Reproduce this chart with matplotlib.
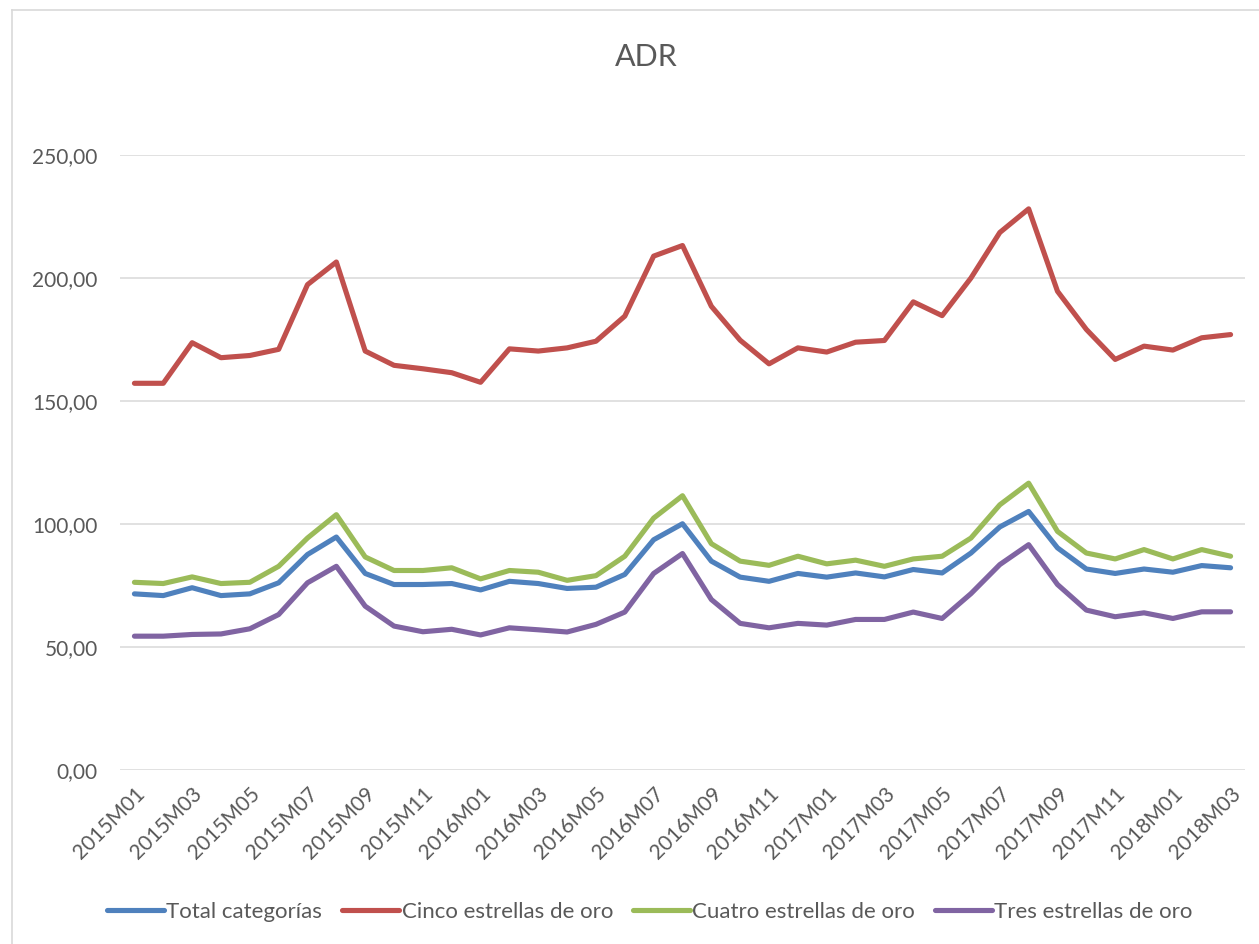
import matplotlib
matplotlib.use("Agg")
import matplotlib.pyplot as plt
from matplotlib.lines import Line2D
import matplotlib.transforms as mtransforms

# ---- data ----
months = [f"{y}M{m:02d}" for y in (2015, 2016, 2017, 2018) for m in range(1, 13)][:39]

total = [71.6, 70.9, 74.1, 70.9, 71.6, 76.1, 87.6, 94.7, 79.9, 75.4, 75.4, 75.8, 73.2,
         76.7, 75.8, 73.8, 74.3, 79.5, 93.6, 100.1, 84.9, 78.4, 76.7, 79.9, 78.4, 80.1,
         78.5, 81.5, 80.1, 88.2, 98.8, 105.1, 90.3, 81.7, 79.9, 81.7, 80.4, 83.1, 82.2]
cinco = [157.2, 157.2, 173.7, 167.6, 168.5, 171.0, 197.3, 206.5, 170.3, 164.5, 163.1, 161.5, 157.6,
         171.2, 170.3, 171.6, 174.3, 184.5, 208.9, 213.2, 188.5, 174.7, 165.1, 171.6, 169.9, 173.9,
         174.6, 190.3, 184.7, 200.0, 218.5, 228.1, 194.6, 179.1, 166.9, 172.3, 170.7, 175.7, 177.0]
cuatro = [76.3, 75.8, 78.5, 75.8, 76.3, 82.8, 94.3, 103.8, 86.6, 81.1, 81.1, 82.2, 77.7,
          81.1, 80.4, 77.1, 79.0, 86.9, 102.4, 111.5, 92.0, 84.9, 83.2, 86.9, 83.8, 85.3,
          82.8, 85.8, 86.9, 94.3, 107.8, 116.6, 97.0, 88.2, 85.8, 89.6, 85.8, 89.6, 86.9]
tres = [54.4, 54.4, 55.1, 55.3, 57.4, 63.2, 76.1, 82.8, 66.6, 58.5, 56.2, 57.2, 54.9,
        57.8, 57.0, 56.1, 59.2, 64.2, 79.9, 88.0, 69.3, 59.6, 57.8, 59.6, 58.9, 61.2,
        61.2, 64.2, 61.6, 71.7, 83.5, 91.6, 75.4, 65.0, 62.3, 63.9, 61.6, 64.3, 64.3]

series_names = ["Total categorías", "Cinco estrellas de oro",
                "Cuatro estrellas de oro", "Tres estrellas de oro"]
series_colors = ["#4F81BD", "#C0504D", "#9BBB59", "#8064A2"]
yticks = [0, 50, 100, 150, 200, 250]
title = "ADR"

# ---- style ----
plt.rcParams['font.family'] = ['Lato', 'DejaVu Sans']
txt = "#595959"
grid_c = "#D9D9D9"

W, H = 1259, 944
fig = plt.figure(figsize=(W / 100, H / 100), dpi=100)
ax = fig.add_axes([120 / W, 1 - 770 / H, (1245 - 120) / W, (770 - 155) / H])

x = list(range(len(months)))
for vals, name, col in zip([total, cinco, cuatro, tres], series_names, series_colors):
    ax.plot(x, vals, color=col, lw=3.7, label=name, solid_joinstyle='round',
            solid_capstyle='round', zorder=3)

ax.set_xlim(-0.5, len(months) - 0.5)
ax.set_ylim(0, 250)
ax.set_yticks(yticks)
ax.set_yticklabels([f"{v:.2f}".replace(".", ",") for v in yticks])
ax.yaxis.grid(True, color=grid_c, lw=1.1)
ax.set_axisbelow(True)
for s in ax.spines.values():
    s.set_visible(False)
ax.tick_params(axis='y', length=0, pad=16, labelsize=15, labelcolor=txt)
ax.tick_params(axis='x', length=0, pad=15, labelsize=15, labelcolor=txt)

ax.set_xticks(x[::2])
ax.set_xticklabels(months[::2], rotation=45, ha='right', va='center',
                   rotation_mode='anchor')
offset = mtransforms.ScaledTranslation(0.07, 0, fig.dpi_scale_trans)
for lab in ax.get_xticklabels():
    lab.set_transform(lab.get_transform() + offset)

fig.text(646 / W, 1 - 57 / H, title, ha='center', va='center', fontsize=22, color=txt)

leg = fig.legend(loc='center', bbox_to_anchor=(650 / W, 1 - 912 / H), ncol=4,
                 frameon=False, fontsize=16, handlelength=2.55, handletextpad=0.12,
                 columnspacing=0.9, labelcolor=txt)
for h in leg.get_lines():
    h.set_linewidth(3.7)

# chart border (top and left visible)
fig.add_artist(Line2D([12 / W, 1], [1 - 10 / H, 1 - 10 / H], transform=fig.transFigure,
                      color=grid_c, lw=1.2))
fig.add_artist(Line2D([12 / W, 12 / W], [0, 1 - 10 / H], transform=fig.transFigure,
                      color=grid_c, lw=1.2))

fig.savefig("out.png", dpi=100, facecolor="white")
